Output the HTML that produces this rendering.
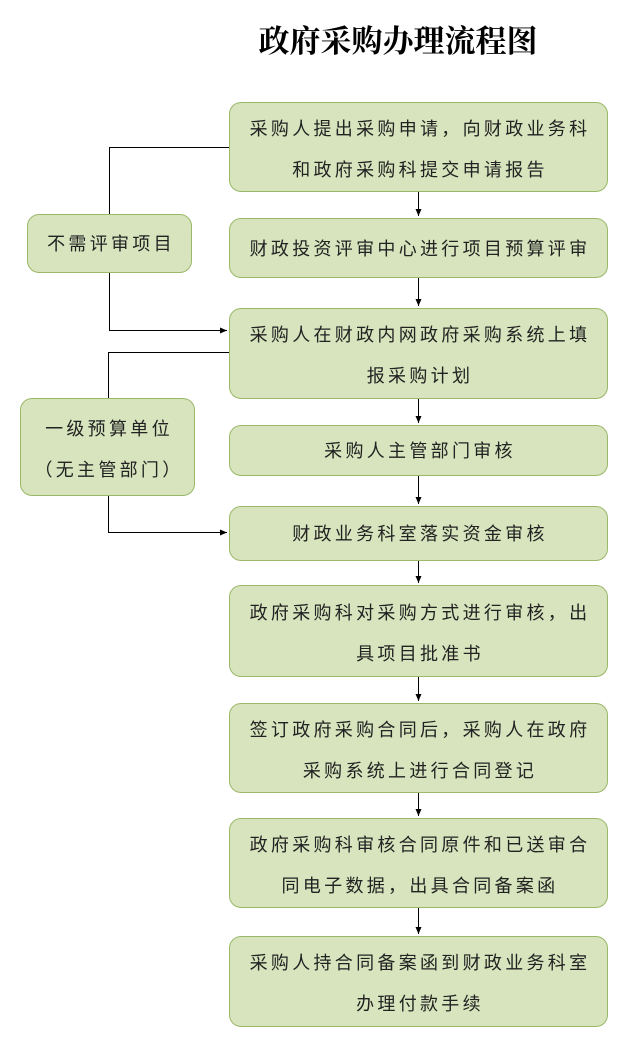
<!DOCTYPE html>
<html><head><meta charset="utf-8"><style>
body{margin:0;width:628px;height:1049px;background:#fff;position:relative;overflow:hidden;font-family:"Liberation Sans","Noto Sans CJK SC",sans-serif;}
.t{position:absolute;left:253px;top:16px;width:290px;text-align:center;font-family:"Liberation Serif","Noto Serif CJK SC",serif;font-weight:bold;font-size:31px;color:#000;white-space:nowrap}
.b{position:absolute;box-sizing:border-box;background:#d7e4bd;border:1.5px solid #9bb86a;border-radius:12px;display:flex;align-items:center;justify-content:center;text-align:center;font-size:18px;letter-spacing:3.3px;line-height:41px;color:#222;padding:5px 0 0 3px;white-space:nowrap}
</style></head><body>
<div class="t">政府采购办理流程图</div>
<div class="b" style="left:229px;top:102px;width:379px;height:90px">采购人提出采购申请，向财政业务科<br>和政府采购科提交申请报告</div>
<div class="b" style="left:229px;top:218px;width:379px;height:60px;padding-top:2px">财政投资评审中心进行项目预算评审</div>
<div class="b" style="left:229px;top:308px;width:379px;height:91px">采购人在财政内网政府采购系统上填<br>报采购计划</div>
<div class="b" style="left:229px;top:425px;width:379px;height:51px;padding-top:2px">采购人主管部门审核</div>
<div class="b" style="left:229px;top:506px;width:379px;height:55px;padding-top:2px">财政业务科室落实资金审核</div>
<div class="b" style="left:229px;top:585px;width:379px;height:92px">政府采购科对采购方式进行审核，出<br>具项目批准书</div>
<div class="b" style="left:229px;top:703px;width:379px;height:90px">签订政府采购合同后，采购人在政府<br>采购系统上进行合同登记</div>
<div class="b" style="left:229px;top:818px;width:379px;height:90px">政府采购科审核合同原件和已送审合<br>同电子数据，出具合同备案函</div>
<div class="b" style="left:229px;top:936px;width:379px;height:91px">采购人持合同备案函到财政业务科室<br>办理付款手续</div>
<div class="b" style="left:27px;top:214px;width:165px;height:59px;padding-top:2px">不需评审项目</div>
<div class="b" style="left:20px;top:398px;width:175px;height:98px">一级预算单位<br>（无主管部门）</div>
<svg width="628" height="1049" style="position:absolute;left:0;top:0" fill="none" stroke="#000" stroke-width="1">
<defs><marker id="a" markerWidth="8" markerHeight="8" refX="7" refY="4" orient="auto" markerUnits="userSpaceOnUse"><path d="M0,1 L7,4 L0,7 z" fill="#000" stroke="none"/></marker></defs>
<path d="M229,147.5 H109.5 V214"/>
<path d="M109.5,273 V330.5 H227" marker-end="url(#a)"/>
<path d="M229,352.5 H108.5 V398"/>
<path d="M108.5,496 V532.5 H227" marker-end="url(#a)"/>
<path d="M418.5,192 V216" marker-end="url(#a)"/>
<path d="M418.5,278 V306" marker-end="url(#a)"/>
<path d="M418.5,399 V423" marker-end="url(#a)"/>
<path d="M418.5,476 V504" marker-end="url(#a)"/>
<path d="M418.5,561 V583" marker-end="url(#a)"/>
<path d="M418.5,677 V701" marker-end="url(#a)"/>
<path d="M418.5,793 V816" marker-end="url(#a)"/>
<path d="M418.5,908 V934" marker-end="url(#a)"/>
</svg>
</body></html>
